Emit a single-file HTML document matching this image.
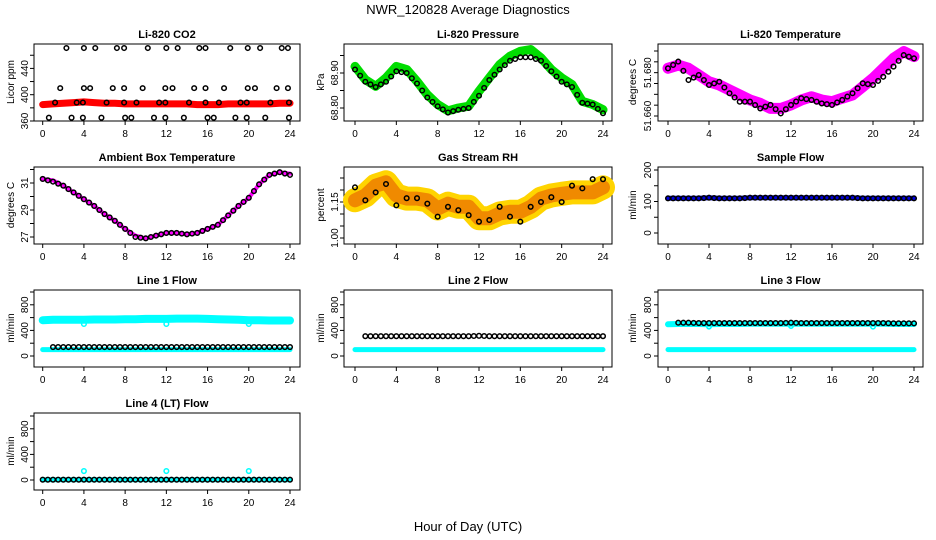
<!DOCTYPE html>
<html><head><meta charset="utf-8">
<style>
html,body{margin:0;padding:0;background:#fff;}
svg{display:block;font-family:"Liberation Sans",sans-serif;}
</style></head>
<body>
<svg id="chart" width="936" height="540" viewBox="0 0 936 540" xmlns="http://www.w3.org/2000/svg">
<rect x="0" y="0" width="936" height="540" fill="#fff"/>
<text x="468" y="14" font-size="13" text-anchor="middle">NWR_120828  Average Diagnostics</text>
<text x="468" y="531" font-size="13" text-anchor="middle">Hour of Day (UTC)</text>
</svg>
<script>
// ---- data ----
const hours = [0,1,2,3,4,5,6,7,8,9,10,11,12,13,14,15,16,17,18,19,20,21,22,23,24];
const xTicks = [0,4,8,12,16,20,24];

const co2Band = [385,386,387,388,389,388,387,387,386,386,386,386,386,386,386,385,385,385,386,386,386,386,386,387,387];
const co2Hours = [2.3,4,5.1,7.2,7.9,10.2,12,13.1,15.2,15.8,18.2,19.9,21.1,23.2,23.8,
  1.7,4,4.6,6.8,7.9,9.7,11.9,12.6,14.7,15.8,17.6,19.9,20.6,22.7,23.8,
  1.2,3.3,3.9,6.2,7.9,9.1,11.3,11.9,14.2,15.8,17.1,19.2,19.8,22.1,23.9,
  0.6,2.8,3.9,5.7,8,8.6,10.8,11.9,13.7,16,16.6,18.7,19.8,21.6,23.9];
const co2Vals = [471,471,471,471,471,471,471,471,471,471,471,471,471,471,471,
  410,410,410,410,410,410,410,410,410,410,410,410,410,410,410,
  388,388,388,388,388,388,388,388,388,388,388,388,388,388,388,
  365,365,365,365,365,365,365,365,365,365,365,365,365,365,365];

const presBand = [68.919,68.881,68.862,68.886,68.919,68.91,68.876,68.838,68.81,68.792,68.80,68.805,68.848,68.886,68.924,68.948,68.962,68.967,68.943,68.91,68.886,68.867,68.819,68.81,68.795];
const presAvg = [68.91,68.875,68.86,68.875,68.905,68.90,68.87,68.83,68.805,68.787,68.795,68.80,68.835,68.88,68.91,68.935,68.945,68.945,68.935,68.905,68.875,68.86,68.815,68.81,68.785];

const tempBand = [51.682,51.6835,51.682,51.6789,51.6758,51.6743,51.672,51.6697,51.6674,51.6658,51.6635,51.6635,51.6651,51.6674,51.6689,51.6674,51.6666,51.6682,51.6697,51.6735,51.6774,51.682,51.6866,51.6897,51.6874];
const tempAvg = [51.682,51.6851,51.6766,51.6789,51.6743,51.6758,51.6705,51.6666,51.6666,51.6635,51.6651,51.6612,51.6651,51.6682,51.6674,51.6658,51.6651,51.6674,51.6705,51.6751,51.6743,51.6781,51.6828,51.6881,51.6866];

const ambBand = [31.3,31.2,30.8,30.3,29.8,29.3,28.7,28.2,27.6,27.1,26.9,27.1,27.3,27.3,27.2,27.3,27.6,27.9,28.6,29.3,29.9,30.9,31.6,31.8,31.7];
const ambAvg = [31.3,31.1,30.8,30.3,29.8,29.3,28.7,28.2,27.6,27.0,26.9,27.1,27.3,27.3,27.2,27.3,27.6,27.9,28.6,29.3,29.9,30.9,31.6,31.8,31.6];

const rhBand = [1.157,1.177,1.218,1.232,1.177,1.164,1.164,1.157,1.123,1.143,1.13,1.13,1.082,1.082,1.102,1.109,1.109,1.13,1.164,1.177,1.184,1.19,1.19,1.19,1.211];
const rhAvg = [1.211,1.157,1.19,1.225,1.136,1.166,1.166,1.143,1.089,1.13,1.116,1.095,1.068,1.075,1.13,1.089,1.068,1.13,1.15,1.17,1.15,1.218,1.207,1.245,1.245];

const sampleBand = [110,110,110,110,112,110,110,110,112,112,112,112,112,112,112,112,112,112,112,110,110,110,110,110,110];
const sampleAvg = [110,110,110,110,112,110,110,110,112,112,112,112,112,112,112,112,112,112,112,110,110,110,110,110,110];

const l1High = [560,565,565,565,565,570,570,570,575,575,580,580,580,585,585,585,580,575,570,565,560,560,555,555,555];
const l1Low = [100,100,100,100,100,100,100,100,100,100,100,100,100,100,100,100,100,100,100,100,100,100,100,100,100];
const l1Avg = [140,140,140,140,140,140,140,140,140,140,140,140,140,140,140,140,140,140,140,140,140,140,140,140,140];
const l1Dips = [500,500,500];
const dipHours = [4,12,20];

const l2Low = [100,100,100,100,100,100,100,100,100,100,100,100,100,100,100,100,100,100,100,100,100,100,100,100,100];
const l2Avg = [305,310,310,310,310,310,310,310,310,310,310,310,315,310,310,310,310,310,310,310,310,310,310,310,310];

const l3High = [495,500,500,500,495,500,500,500,505,505,505,505,505,505,505,505,505,505,505,505,505,505,500,500,500];
const l3Low = [100,100,100,100,100,100,100,100,100,100,100,100,100,100,100,100,100,100,100,100,100,100,100,100,100];
const l3Avg = [515,520,520,515,515,515,515,515,515,515,515,515,520,515,515,515,515,515,515,515,515,515,510,510,510];
const l3Dips = [460,470,460];

const l4Low = [5,5,5,5,5,5,5,5,5,5,5,5,5,5,5,5,5,5,5,5,5,5,5,5,5];
const l4Avg = [5,5,5,5,5,5,5,5,5,5,5,5,5,5,5,5,5,5,5,5,5,5,5,5,5];
const l4Spikes = [140,140,140];

// ---- layout ----
const svg = document.getElementById('chart');
const NS = 'http://www.w3.org/2000/svg';
const cols = [{l:34,r:300,x0:42.7,x24:290,ylab:10,tl:25},{l:344,r:612,x0:355,x24:603,ylab:320,tl:335},{l:658,r:923,x0:668,x24:914,ylab:632,tl:648}];
function rowTop(r){return 44+123*r;}

function mk(tag, attrs, parent){
  const e=document.createElementNS(NS,tag);
  for(const k in attrs) e.setAttribute(k,attrs[k]);
  (parent||svg).appendChild(e);
  return e;
}

function panel(cfg){
  const c=cols[cfg.col], t=rowTop(cfg.row), b=t+77;
  const g=mk('g',{});
  
  
  const xs=h=>c.x0+(c.x24-c.x0)*h/24;
  const ys=v=>t+cfg.ref-(v-cfg.v0)*cfg.k;
  const box=mk('rect',{x:c.l,y:t,width:c.r-c.l,height:b-t,fill:'none',stroke:'#000','stroke-width':1},g);
  
  
  const tt=mk('text',{x:(c.l+c.r)/2,y:t-6,'font-size':11,'font-weight':'bold','text-anchor':'middle'},g);
  tt.textContent=cfg.title;
  
  
  const yl=mk('text',{x:0,y:0,'font-size':10,'text-anchor':'middle',transform:`translate(${c.ylab+4},${t+38}) rotate(-90)`},g);
  yl.textContent=cfg.ylab;
  
  
  xTicks.forEach(h=>{
    const tk=mk('line',{x1:xs(h),x2:xs(h),y1:b,y2:b+4,stroke:'#000'},g);
    
    
    const lb=mk('text',{x:xs(h),y:b+16,'font-size':10,'text-anchor':'middle'},g);
    lb.textContent=String(h);
    
    
  });
  cfg.ticks.forEach((v)=>{
    const y=ys(v); if(y<t-0.5||y>b+0.5) return;
    const tk=mk('line',{x1:c.l-4,x2:c.l,y1:y,y2:y,stroke:'#000'},g);
    
    
  });
  cfg.labels.forEach((s)=>{
    const y=ys(parseFloat(s));
    const lb=mk('text',{x:0,y:0,'font-size':10,'text-anchor':'middle',transform:`translate(${c.tl+3},${y}) rotate(-90)`},g);
    lb.textContent=s;
    
    
  });
  cfg.layers.forEach(L=>{
    const hx=L.hours||hours;
    if(L.type==='band'){
      const pts=L.vals.map((v,i)=>xs(hx[i]).toFixed(1)+','+ys(v).toFixed(1)).join(' ');
      const pl=mk('polyline',{points:pts,fill:'none',stroke:L.color,'stroke-width':L.w,'stroke-linejoin':'round','stroke-linecap':'round'},g);
      
      
    } else {
      L.vals.forEach((v,i)=>{
        const ci=mk('circle',{cx:xs(hx[i]),cy:ys(v),r:L.r||2.3,fill:L.fill||'none',stroke:L.color,'stroke-width':1.5},g);
        
        
      });
      if(L.half){
        for(let i=0;i<L.vals.length-1;i++){
          const ci=mk('circle',{cx:xs(hx[i]+0.5),cy:ys((L.vals[i]+L.vals[i+1])/2),r:L.r||2.3,fill:'none',stroke:L.color,'stroke-width':1.5},g);
          
          
        }
      }
    }
  });
}

panel({name:'co2-panel',col:0,row:0,title:'Li-820 CO2',ylab:'Licor ppm',v0:360,ref:77,k:0.6575,
  ticks:[360,380,400,420,440,460],labels:['360','400','440'],
  layers:[{type:'band',vals:co2Band,color:'#ff0000',w:7,name:'co2-band'},
          {type:'pts',vals:co2Vals,hours:co2Hours,color:'#000',name:'co2-average-point'}]});
panel({name:'pressure-panel',col:1,row:0,title:'Li-820 Pressure',ylab:'kPa',v0:68.80,ref:64,k:350,
  ticks:[68.80,68.85,68.90,68.95],labels:['68.80','68.90'],
  layers:[{type:'band',vals:presBand,color:'#00dd00',w:9,name:'pressure-band'},
          {type:'pts',vals:presAvg,color:'#000',half:true,name:'pressure-average-point'}]});
panel({name:'temperature-panel',col:2,row:0,title:'Li-820 Temperature',ylab:'degrees C',v0:51.660,ref:72,k:2167,
  ticks:[51.655,51.660,51.665,51.670,51.675,51.680,51.685,51.690],labels:['51.660','51.680'],
  layers:[{type:'band',vals:tempBand,color:'#ff00ff',w:11,name:'temperature-band'},
          {type:'pts',vals:tempAvg,color:'#000',half:true,name:'temperature-average-point'}]});
panel({name:'ambient-temp-panel',col:0,row:1,title:'Ambient Box Temperature',ylab:'degrees C',v0:27,ref:70,k:13.5,
  ticks:[27,28,29,30,31,32],labels:['27','29','31'],
  layers:[{type:'band',vals:ambBand,color:'#ff00ff',w:4,name:'ambient-band'},
          {type:'pts',vals:ambAvg,color:'#000',half:true,name:'ambient-average-point'}]});
panel({name:'rh-panel',col:1,row:1,title:'Gas Stream RH',ylab:'percent',v0:1.00,ref:71,k:240,
  ticks:[1.00,1.05,1.10,1.15,1.20,1.25],labels:['1.00','1.15'],
  layers:[{type:'band',vals:rhBand,color:'#ffd400',w:24,name:'rh-band-outer'},
          {type:'band',vals:rhBand,color:'#f08a00',w:14,name:'rh-band-inner'},
          {type:'pts',vals:rhAvg,color:'#000',name:'rh-average-point'}]});
panel({name:'sample-flow-panel',col:2,row:1,title:'Sample Flow',ylab:'ml/min',v0:0,ref:66,k:0.315,
  ticks:[0,50,100,150,200],labels:['0','100','200'],
  layers:[{type:'band',vals:sampleBand,color:'#0000dd',w:5,name:'sample-flow-band'},
          {type:'pts',vals:sampleAvg,color:'#000',half:true,name:'sample-flow-average-point'}]});
const flowTicks=[0,200,400,600,800,1000], flowLabels=['0','400','800'];
panel({name:'line1-flow-panel',col:0,row:2,title:'Line 1 Flow',ylab:'ml/min',v0:0,ref:66,k:0.064,
  ticks:flowTicks,labels:flowLabels,
  layers:[{type:'band',vals:l1High,color:'#00ffff',w:8,name:'line1-high-band'},
          {type:'band',vals:l1Low,color:'#00ffff',w:5,name:'line1-low-band'},
          {type:'pts',vals:l1Dips,hours:dipHours,color:'#00ffff',name:'line1-dip-point'},
          {type:'pts',vals:l1Avg.slice(1),hours:hours.slice(1),color:'#000',half:true,name:'line1-average-point'}]});
panel({name:'line2-flow-panel',col:1,row:2,title:'Line 2 Flow',ylab:'ml/min',v0:0,ref:66,k:0.064,
  ticks:flowTicks,labels:flowLabels,
  layers:[{type:'band',vals:l2Low,color:'#00ffff',w:5,name:'line2-low-band'},
          {type:'pts',vals:l2Avg.slice(1),hours:hours.slice(1),color:'#000',half:true,name:'line2-average-point'}]});
panel({name:'line3-flow-panel',col:2,row:2,title:'Line 3 Flow',ylab:'ml/min',v0:0,ref:66,k:0.064,
  ticks:flowTicks,labels:flowLabels,
  layers:[{type:'band',vals:l3High,color:'#00ffff',w:6,name:'line3-high-band'},
          {type:'band',vals:l3Low,color:'#00ffff',w:5,name:'line3-low-band'},
          {type:'pts',vals:l3Dips,hours:dipHours,color:'#00ffff',name:'line3-dip-point'},
          {type:'pts',vals:l3Avg.slice(1),hours:hours.slice(1),color:'#000',half:true,name:'line3-average-point'}]});
panel({name:'line4-flow-panel',col:0,row:3,title:'Line 4 (LT) Flow',ylab:'ml/min',v0:0,ref:67,k:0.064,
  ticks:flowTicks,labels:flowLabels,
  layers:[{type:'band',vals:l4Low,color:'#00ffff',w:5,name:'line4-low-band'},
          {type:'pts',vals:l4Spikes,hours:dipHours,color:'#00ffff',name:'line4-spike-point'},
          {type:'pts',vals:l4Avg,color:'#000',half:true,name:'line4-average-point'}]});
</script>
</body></html>
